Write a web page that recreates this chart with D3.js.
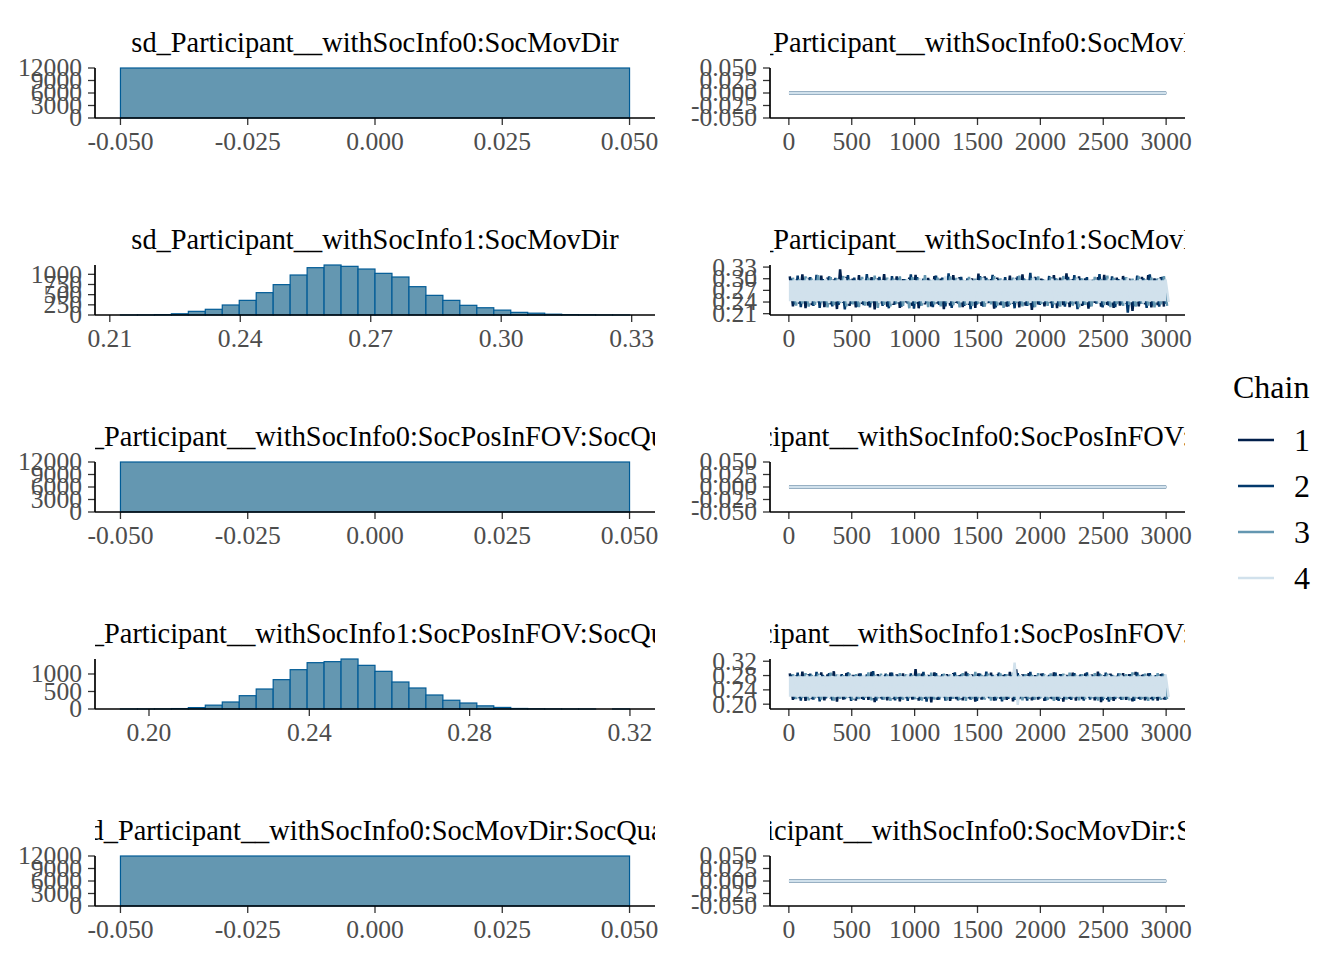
<!DOCTYPE html>
<html>
<head>
<meta charset="utf-8">
<title>mcmc combo - hist + trace</title>
<script src="https://cdnjs.cloudflare.com/ajax/libs/d3/7.8.5/d3.min.js"></script>
<style>
body { margin: 0; background: #fff; }
text { font-family: "Liberation Serif", "DejaVu Serif", "Times New Roman", serif; }
</style>
</head>
<body>
<svg id="chart" width="1344" height="960"></svg>
<script>
// parameter names, one row each
const params = [
	"sd_Participant__withSocInfo0:SocMovDir",
	"sd_Participant__withSocInfo1:SocMovDir",
	"sd_Participant__withSocInfo0:SocPosInFOV:SocQual",
	"sd_Participant__withSocInfo1:SocPosInFOV:SocQual",
	"sd_Participant__withSocInfo0:SocMovDir:SocQual"
];
const chains = ["1", "2", "3", "4"];
const chainColors = ["#011f4b", "#03396c", "#6497b1", "#d1e1ec"];
const nIter = 3000;

// histogram bins (start of first bin, bin width, counts)
const histStart = [-0.05, 0.21245, -0.05, 0.19288, -0.05];
const histWidth = [0.1, 0.003902, 0.1, 0.004234, 0.1];
const countsRow1 = [12000];
const countsRow2 = [1, 3, 10, 30, 90, 140, 246, 360, 549, 746, 983, 1163, 1229, 1196, 1130,
	1024, 934, 696, 483, 360, 238, 178, 120, 65, 45, 20, 10, 5, 2, 1];
const countsRow3 = [12000];
const countsRow4 = [1, 2, 4, 12, 40, 110, 200, 380, 571, 838, 1123, 1323, 1352, 1428, 1247,
	1076, 771, 600, 400, 250, 171, 90, 45, 15, 6, 3, 1, 1, 0, 1];
const countsRow5 = [12000];
const histCounts = [countsRow1, countsRow2, countsRow3, countsRow4, countsRow5];

// tick values
const ticksFlat = [-0.05, -0.025, 0, 0.025, 0.05];
const ticksMov1 = [0.21, 0.24, 0.27, 0.30, 0.33];
const ticksPos1 = [0.20, 0.24, 0.28, 0.32];
const histCountTicks = [[0, 3000, 6000, 9000, 12000], [0, 250, 500, 750, 1000],
	[0, 3000, 6000, 9000, 12000], [0, 500, 1000], [0, 3000, 6000, 9000, 12000]];
const iterTicks = [0, 500, 1000, 1500, 2000, 2500, 3000];

// trace plots: rows 1, 3, 5 sit at 0 for every draw
const flatDraw = 0;
// rows 2 and 4: high / low of each chain per 50-iteration block
const mov1Hi = [
	[0.306,0.299,0.311,0.302,0.296,0.308,0.303,0.298,0.324,0.305,0.300,0.309,0.295,0.304,0.301,0.312,0.297,0.306,0.299,0.303,
	 0.310,0.296,0.302,0.307,0.300,0.298,0.309,0.304,0.295,0.301,0.313,0.306,0.299,0.303,0.297,0.308,0.302,0.311,0.298,0.305,
	 0.300,0.296,0.309,0.303,0.314,0.299,0.306,0.301,0.297,0.304,0.310,0.298,0.303,0.307,0.300,0.296,0.305,0.309,0.301,0.304],
	[0.301,0.308,0.297,0.304,0.310,0.299,0.306,0.302,0.296,0.309,0.303,0.298,0.312,0.300,0.305,0.297,0.307,0.302,0.299,0.311,
	 0.304,0.300,0.297,0.308,0.303,0.314,0.298,0.305,0.301,0.296,0.307,0.302,0.310,0.299,0.304,0.297,0.306,0.300,0.315,0.303,
	 0.298,0.307,0.301,0.296,0.305,0.309,0.300,0.304,0.297,0.312,0.302,0.306,0.299,0.303,0.296,0.308,0.301,0.311,0.298,0.305],
	[0.303,0.298,0.306,0.300,0.309,0.296,0.304,0.301,0.307,0.299,0.295,0.305,0.302,0.308,0.297,0.303,0.300,0.306,0.298,0.304,
	 0.301,0.309,0.296,0.303,0.299,0.306,0.302,0.297,0.305,0.300,0.304,0.298,0.307,0.301,0.296,0.303,0.308,0.299,0.302,0.306,
	 0.297,0.304,0.300,0.307,0.298,0.303,0.301,0.296,0.305,0.299,0.308,0.302,0.297,0.304,0.300,0.306,0.298,0.303,0.301,0.307],
	[0.299,0.295,0.301,0.297,0.294,0.300,0.296,0.298,0.302,0.295,0.297,0.299,0.294,0.298,0.296,0.300,0.297,0.293,0.299,0.296,
	 0.301,0.295,0.298,0.294,0.306,0.297,0.300,0.295,0.298,0.296,0.302,0.294,0.299,0.297,0.295,0.300,0.296,0.298,0.303,0.295,
	 0.297,0.300,0.294,0.298,0.296,0.301,0.295,0.299,0.297,0.294,0.300,0.296,0.298,0.302,0.295,0.299,0.297,0.294,0.300,0.298]
];
const mov1Lo = [
	[0.229,0.236,0.224,0.232,0.240,0.227,0.234,0.222,0.238,0.230,0.226,0.235,0.231,0.221,0.237,0.228,0.233,0.225,0.239,0.230,
	 0.224,0.234,0.229,0.236,0.222,0.231,0.238,0.227,0.233,0.225,0.230,0.237,0.223,0.232,0.228,0.235,0.226,0.231,0.220,0.234,
	 0.229,0.237,0.224,0.232,0.227,0.235,0.230,0.223,0.238,0.228,0.233,0.225,0.231,0.236,0.217,0.229,0.234,0.226,0.232,0.228],
	[0.234,0.227,0.238,0.230,0.225,0.236,0.229,0.233,0.221,0.235,0.228,0.232,0.226,0.239,0.230,0.224,0.234,0.228,0.236,0.223,
	 0.231,0.237,0.227,0.233,0.229,0.225,0.236,0.230,0.222,0.234,0.228,0.238,0.226,0.232,0.229,0.224,0.235,0.230,0.227,0.233,
	 0.237,0.225,0.231,0.228,0.235,0.222,0.233,0.229,0.236,0.226,0.231,0.227,0.234,0.213,0.230,0.236,0.225,0.232,0.228,0.235],
	[0.231,0.236,0.228,0.233,0.239,0.226,0.232,0.237,0.229,0.234,0.227,0.231,0.238,0.225,0.233,0.229,0.236,0.230,0.224,0.235,
	 0.231,0.227,0.234,0.229,0.237,0.232,0.226,0.233,0.230,0.236,0.228,0.234,0.231,0.225,0.233,0.238,0.229,0.232,0.227,0.235,
	 0.230,0.234,0.228,0.236,0.231,0.226,0.233,0.229,0.237,0.232,0.227,0.235,0.230,0.233,0.228,0.236,0.231,0.226,0.234,0.230],
	[0.239,0.243,0.237,0.241,0.244,0.238,0.242,0.240,0.236,0.243,0.239,0.241,0.245,0.238,0.242,0.236,0.240,0.243,0.239,0.241,
	 0.237,0.242,0.240,0.244,0.238,0.241,0.239,0.236,0.242,0.240,0.238,0.243,0.239,0.241,0.237,0.242,0.240,0.238,0.243,0.240,
	 0.241,0.237,0.243,0.239,0.242,0.236,0.240,0.244,0.238,0.241,0.239,0.243,0.237,0.240,0.242,0.238,0.241,0.239,0.244,0.240]
];
const pos1Hi = [
	[0.286,0.281,0.291,0.284,0.279,0.289,0.283,0.292,0.280,0.287,0.282,0.285,0.278,0.290,0.284,0.281,0.288,0.283,0.286,0.280,
	 0.298,0.285,0.282,0.289,0.279,0.284,0.287,0.281,0.291,0.283,0.286,0.280,0.288,0.284,0.282,0.290,0.297,0.283,0.287,0.281,
	 0.285,0.279,0.289,0.284,0.282,0.288,0.280,0.286,0.283,0.291,0.281,0.285,0.279,0.287,0.284,0.290,0.282,0.286,0.280,0.284],
	[0.283,0.288,0.280,0.285,0.290,0.282,0.287,0.279,0.284,0.289,0.281,0.286,0.283,0.292,0.280,0.285,0.288,0.282,0.279,0.286,
	 0.283,0.290,0.281,0.287,0.284,0.280,0.289,0.283,0.286,0.279,0.285,0.291,0.282,0.288,0.284,0.281,0.287,0.283,0.290,0.280,
	 0.286,0.282,0.288,0.284,0.279,0.287,0.283,0.289,0.281,0.285,0.288,0.282,0.286,0.280,0.284,0.289,0.283,0.287,0.281,0.285],
	[0.284,0.280,0.287,0.282,0.285,0.279,0.288,0.283,0.281,0.286,0.284,0.280,0.289,0.282,0.285,0.283,0.279,0.287,0.284,0.281,
	 0.286,0.282,0.288,0.280,0.285,0.283,0.281,0.287,0.284,0.290,0.282,0.285,0.280,0.286,0.283,0.288,0.281,0.284,0.282,0.287,
	 0.283,0.286,0.280,0.285,0.288,0.282,0.284,0.281,0.287,0.283,0.285,0.280,0.286,0.284,0.289,0.282,0.285,0.281,0.287,0.283],
	[0.280,0.277,0.282,0.278,0.281,0.276,0.279,0.283,0.277,0.280,0.278,0.282,0.276,0.279,0.281,0.277,0.280,0.278,0.283,0.279,
	 0.277,0.281,0.278,0.276,0.280,0.284,0.277,0.279,0.282,0.278,0.276,0.280,0.283,0.277,0.279,0.316,0.281,0.278,0.276,0.280,
	 0.282,0.277,0.279,0.281,0.276,0.280,0.278,0.283,0.277,0.279,0.281,0.276,0.280,0.278,0.282,0.277,0.279,0.281,0.278,0.283]
];
const pos1Lo = [
	[0.212,0.217,0.209,0.214,0.219,0.211,0.216,0.207,0.213,0.218,0.210,0.215,0.212,0.206,0.216,0.211,0.214,0.208,0.217,0.213,
	 0.210,0.215,0.205,0.212,0.218,0.209,0.214,0.211,0.216,0.207,0.213,0.219,0.210,0.215,0.212,0.208,0.214,0.217,0.211,0.213,
	 0.209,0.216,0.212,0.207,0.215,0.210,0.214,0.218,0.211,0.206,0.213,0.209,0.216,0.212,0.208,0.215,0.211,0.214,0.210,0.213],
	[0.215,0.210,0.217,0.213,0.208,0.216,0.211,0.219,0.214,0.209,0.215,0.212,0.217,0.210,0.213,0.218,0.211,0.215,0.209,0.214,
	 0.212,0.207,0.216,0.213,0.210,0.215,0.211,0.218,0.213,0.209,0.214,0.216,0.211,0.208,0.215,0.212,0.217,0.210,0.213,0.216,
	 0.211,0.214,0.209,0.216,0.212,0.218,0.210,0.213,0.215,0.211,0.207,0.214,0.212,0.217,0.209,0.213,0.215,0.211,0.216,0.212],
	[0.214,0.218,0.211,0.216,0.213,0.219,0.210,0.215,0.217,0.212,0.214,0.218,0.211,0.216,0.213,0.209,0.215,0.212,0.217,0.214,
	 0.210,0.216,0.213,0.218,0.211,0.215,0.212,0.209,0.214,0.217,0.213,0.210,0.216,0.212,0.218,0.214,0.211,0.215,0.213,0.217,
	 0.212,0.209,0.215,0.213,0.217,0.211,0.214,0.216,0.210,0.215,0.212,0.218,0.213,0.211,0.216,0.214,0.209,0.215,0.212,0.214],
	[0.219,0.222,0.217,0.221,0.224,0.218,0.220,0.223,0.219,0.216,0.221,0.223,0.218,0.220,0.222,0.217,0.221,0.219,0.223,0.218,
	 0.220,0.224,0.219,0.217,0.221,0.222,0.218,0.220,0.223,0.219,0.217,0.221,0.220,0.224,0.218,0.198,0.222,0.219,0.221,0.217,
	 0.220,0.223,0.218,0.221,0.219,0.224,0.217,0.220,0.222,0.218,0.221,0.219,0.223,0.217,0.220,0.222,0.219,0.221,0.218,0.220]
];
const traceHi = [null, mov1Hi, null, pos1Hi, null];
const traceLo = [null, mov1Lo, null, pos1Lo, null];

// layout
const svg = d3.select("#chart");
const leftX = [95, 655], rightX = [770, 1185];
const firstTop = 68, rowStep = 197, panelH = 50;
const tickLen = 7, tickFont = 25.6, stripFont = 28.4;
const traceWidth = 2.5;
const chainPhase = [0.15, 0.40, 0.65, 0.90]; // where in a block each chain peaks

// ggplot prints a plain hyphen for negatives
function fmt(spec) {
	const f = d3.format(spec);
	return function(v) { return f(v).replace("\u2212", "-"); };
}
const tickFmt = [fmt(".3f"), fmt(".2f"), fmt(".3f"), fmt(".2f"), fmt(".3f")];

function stripTitle(name, x0, x1, top, id) {
	svg.append("clipPath").attr("id", id)
		.append("rect").attr("x", x0).attr("y", top - 48).attr("width", x1 - x0).attr("height", 48);
	svg.append("text")
		.attr("clip-path", "url(#" + id + ")")
		.attr("x", (x0 + x1) / 2).attr("y", top - 16)
		.attr("text-anchor", "middle")
		.attr("font-size", stripFont)
		.attr("fill", "#000")
		.text(name);
}

function drawAxes(g, x, y, xTicks, yTicks, xFmt, yFmt) {
	const [xa, xb] = x.range(), [yb, ya] = y.range();
	yTicks.forEach(function(t) {
		g.append("line").attr("x1", xa - tickLen).attr("x2", xa)
			.attr("y1", y(t)).attr("y2", y(t))
			.attr("stroke", "#333").attr("stroke-width", 1.3);
		g.append("text").attr("x", xa - tickLen - 6).attr("y", y(t) + tickFont * 0.33)
			.attr("text-anchor", "end").attr("font-size", tickFont).attr("fill", "#4d4d4d")
			.text(yFmt(t));
	});
	xTicks.forEach(function(t) {
		g.append("line").attr("x1", x(t)).attr("x2", x(t))
			.attr("y1", yb).attr("y2", yb + tickLen)
			.attr("stroke", "#333").attr("stroke-width", 1.3);
		g.append("text").attr("x", x(t)).attr("y", yb + 32)
			.attr("text-anchor", "middle").attr("font-size", tickFont).attr("fill", "#4d4d4d")
			.text(xFmt(t));
	});
	g.append("line").attr("x1", xa).attr("x2", xb).attr("y1", yb).attr("y2", yb)
		.attr("stroke", "#000").attr("stroke-width", 1.7);
	g.append("line").attr("x1", xa).attr("x2", xa).attr("y1", ya).attr("y2", yb)
		.attr("stroke", "#000").attr("stroke-width", 1.7);
}

params.forEach(function(name, r) {
	const top = firstTop + r * rowStep, bottom = top + panelH;
	const counts = histCounts[r];
	const n = counts.length, w = histWidth[r], s = histStart[r];
	const span = n * w;
	const valDomain = [s - 0.05 * span, s + span + 0.05 * span];

	// ---- histogram (left)
	const hx = d3.scaleLinear().domain(valDomain).range(leftX);
	const hy = d3.scaleLinear().domain([0, d3.max(counts)]).range([bottom, top]);
	const gh = svg.append("g");
	stripTitle(name, leftX[0], leftX[1], top, "clipL" + r);
	gh.selectAll("rect.bar").data(counts).enter().append("rect")
		.attr("class", "bar")
		.attr("x", function(d, i) { return hx(s + i * w); })
		.attr("width", function() { return hx(s + w) - hx(s); })
		.attr("y", function(d) { return hy(d); })
		.attr("height", function(d) { return bottom - hy(d); })
		.attr("fill", "#6497b1")
		.attr("stroke", "#005b96")
		.attr("stroke-width", function(d) { return d > 0 ? 1.2 : 0; });
	const hTicks = (r % 2 === 0) ? ticksFlat : (r === 1 ? ticksMov1 : ticksPos1);
	drawAxes(gh, hx, hy, hTicks, histCountTicks[r], tickFmt[r], d3.format("d"));

	// ---- trace (right)
	const tx = d3.scaleLinear().domain([-0.05 * nIter, nIter * 1.05]).range(rightX);
	const tyDomain = (traceHi[r] === null) ? [-0.05, 0.05] : valDomain;
	const ty = d3.scaleLinear().domain(tyDomain).range([bottom, top]);
	const gt = svg.append("g");
	stripTitle(name, rightX[0], rightX[1], top, "clipR" + r);
	const line = d3.line()
		.x(function(d) { return tx(d[0]); })
		.y(function(d) { return ty(d[1]); });
	chains.forEach(function(c, ci) {
		if (traceHi[r] === null) {
			gt.append("line")
				.attr("x1", tx(1)).attr("x2", tx(nIter))
				.attr("y1", ty(flatDraw)).attr("y2", ty(flatDraw))
				.attr("stroke", chainColors[ci]).attr("stroke-width", 2.4);
			return;
		}
		const hi = traceHi[r][ci], lo = traceLo[r][ci];
		const blk = nIter / hi.length;
		if (ci === 3) {
			// the last chain's dense core hides the others in the middle of the band
			const coreTop = d3.quantile(hi, 0.3), coreBot = d3.quantile(lo, 0.7);
			gt.append("path")
				.datum([[0, coreTop], [nIter, coreTop], [nIter, coreBot], [0, coreBot]])
				.attr("d", function(d) { return line(d) + "Z"; })
				.attr("fill", chainColors[ci]);
		}
		// each block: up to its high, down to its low
		const pts = [];
		hi.forEach(function(h, i) {
			const a = i * blk + blk * chainPhase[ci];
			pts.push([a, h]);
			pts.push([a + blk / 2, lo[i]]);
		});
		gt.append("path").datum(pts)
			.attr("d", line)
			.attr("fill", "none")
			.attr("stroke", chainColors[ci])
			.attr("stroke-width", traceWidth)
			.attr("stroke-linejoin", "bevel");
	});
	const tTicks = (r % 2 === 0) ? ticksFlat : (r === 1 ? ticksMov1 : ticksPos1);
	drawAxes(gt, tx, ty, iterTicks, tTicks, d3.format("d"), tickFmt[r]);
});

// ---- legend
const lg = svg.append("g");
lg.append("text").attr("x", 1233).attr("y", 398).attr("font-size", 32).attr("fill", "#000").text("Chain");
chains.forEach(function(c, i) {
	const yy = 440 + i * 46;
	lg.append("line").attr("x1", 1238).attr("x2", 1274).attr("y1", yy).attr("y2", yy)
		.attr("stroke", chainColors[i]).attr("stroke-width", 2.5);
	lg.append("text").attr("x", 1294).attr("y", yy + 11).attr("font-size", 32).attr("fill", "#000").text(c);
});
</script>
</body>
</html>
